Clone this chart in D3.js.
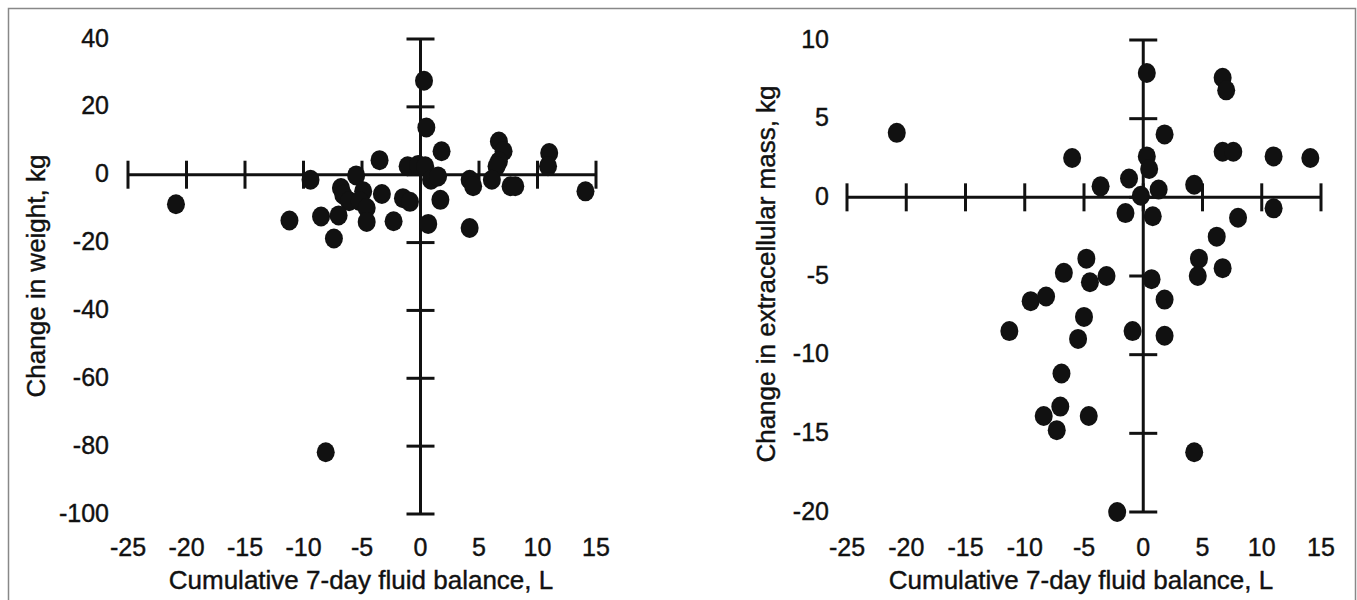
<!DOCTYPE html>
<html>
<head>
<meta charset="utf-8">
<script src="https://cdn.jsdelivr.net/npm/d3@7"></script>
<style>
  body { margin: 0; background: #fff; }
  svg text { font-family: "Liberation Sans", Arial, Helvetica, sans-serif; fill: #111; stroke: #111; stroke-width: 0.4px; }
</style>
</head>
<body>
<svg id="chart" width="1357" height="600"></svg>
<script>
// left panel: change in weight vs fluid balance
const weightX = [0.3, 0.5, 1.8, -3.5, 6.7, 7.1, 6.7, 6.5, 6.1, 7.7, 8.1, 11.0, 10.9, 14.1, 4.2, 4.5, 4.2,
  -1.1, -0.2, 0.4, 0.9, 1.5, 1.7, 0.66, -1.5, -0.9, -9.4, -5.5, -6.8, -6.6, -6.1, -4.9, -5.2, -4.6,
  -3.3, -4.6, -2.3, -8.5, -7.0, -7.4, -20.9, -8.1, -11.2];
const weightY = [27.7, 13.9, 6.9, 4.3, 9.8, 6.9, 3.9, 2.5, -1.5, -3.4, -3.4, 6.4, 2.5, -4.9, -1.5, -3.4, -15.7,
  2.5, 2.9, 2.5, -1.5, -0.5, -7.4, -14.5, -6.9, -8.0, -1.5, -0.2, -3.9, -5.9, -7.8, -4.9, -7.8, -9.8,
  -5.7, -13.9, -13.7, -12.3, -12.0, -18.8, -8.7, -81.8, -13.5];

// right panel: change in extracellular mass vs fluid balance
const ecmX = [0.3, 6.7, 7.0, -20.8, 1.8, -6.0, 0.3, 0.5, 6.7, 7.6, 11.0, 14.1, -3.6, -1.2, -0.2, 1.3, 4.3,
  -1.5, 0.8, 8.0, 11.0, 6.2, 4.7, 4.6, 6.7, -4.8, -6.7, -4.5, -3.1, 0.7, -9.5, -8.2, 1.8, -5.0, -11.3,
  -5.5, -0.9, 1.8, -6.9, -7.0, -8.4, -4.6, -7.3, 4.3, -2.2];
const ecmY = [7.9, 7.6, 6.8, 4.1, 4.0, 2.5, 2.6, 1.8, 2.9, 2.9, 2.6, 2.5, 0.7, 1.2, 0.1, 0.5, 0.8,
  -1.0, -1.2, -1.3, -0.7, -2.5, -3.9, -5.0, -4.5, -3.9, -4.8, -5.4, -5.0, -5.2, -6.6, -6.3, -6.5, -7.6, -8.5,
  -9.0, -8.5, -8.8, -11.2, -13.3, -13.9, -13.9, -14.8, -16.2, -20.0];

const xTicks = [-25, -20, -15, -10, -5, 0, 5, 10, 15];
const weightTicks = [40, 20, 0, -20, -40, -60, -80, -100];
const ecmTicks = [10, 5, 0, -5, -10, -15, -20];
const xTitle = "Cumulative 7-day fluid balance, L";

const svg = d3.select("#chart");

// frame
svg.append("path")
  .attr("d", "M8.5,610 L8.5,8.5 L1355.5,8.5 L1355.5,610")
  .attr("fill", "none")
  .attr("stroke", "#888")
  .attr("stroke-width", 1.5);

function drawPanel(opts) {
  const x = d3.scaleLinear().domain([-25, 15]).range(opts.xRange);
  const y = d3.scaleLinear().domain(opts.yDomain).range(opts.yRange);
  const g = svg.append("g");
  const tk = 14;

  // x axis line through y=0
  g.append("line")
    .attr("x1", x(-25)).attr("x2", x(15))
    .attr("y1", y(0)).attr("y2", y(0))
    .attr("stroke", "#111").attr("stroke-width", 3);
  g.selectAll(".xt").data(xTicks).enter().append("line")
    .attr("x1", d => x(d)).attr("x2", d => x(d))
    .attr("y1", y(0) - tk).attr("y2", y(0) + tk)
    .attr("stroke", "#111").attr("stroke-width", 3);

  // y axis line through x=0
  g.append("line")
    .attr("x1", x(0)).attr("x2", x(0))
    .attr("y1", y(opts.yDomain[0])).attr("y2", y(opts.yDomain[1]))
    .attr("stroke", "#111").attr("stroke-width", 3);
  g.selectAll(".yt").data(opts.yTicks).enter().append("line")
    .attr("x1", x(0) - tk).attr("x2", x(0) + tk)
    .attr("y1", d => y(d)).attr("y2", d => y(d))
    .attr("stroke", "#111").attr("stroke-width", 3);

  // tick labels
  g.selectAll(".xl").data(xTicks).enter().append("text")
    .attr("x", d => x(d)).attr("y", 556)
    .attr("text-anchor", "middle")
    .style("font-size", "25px")
    .text(d => d);
  g.selectAll(".yl").data(opts.yTicks).enter().append("text")
    .attr("x", opts.yLabelX).attr("y", d => y(d))
    .attr("dy", "0.3em")
    .attr("text-anchor", "end")
    .style("font-size", "25px")
    .text(d => d);

  // titles
  g.append("text")
    .attr("x", opts.xTitleX).attr("y", 589)
    .attr("text-anchor", "middle")
    .style("font-size", "26px")
    .text(xTitle);
  g.append("text")
    .attr("transform", `translate(${opts.yTitleX},${opts.yTitleY}) rotate(-90)`)
    .attr("text-anchor", "middle")
    .style("font-size", "26px")
    .text(opts.yTitle);

  // points
  g.selectAll("ellipse").data(opts.xs.map((v, i) => [v, opts.ys[i]])).enter().append("ellipse")
    .attr("cx", d => x(d[0])).attr("cy", d => y(d[1]))
    .attr("rx", 9).attr("ry", 10)
    .attr("fill", "#111");
}

drawPanel({
  xRange: [128, 596], yDomain: [40, -100], yRange: [39, 514],
  yTicks: weightTicks, xs: weightX, ys: weightY,
  yLabelX: 109,
  xTitleX: 361,
  yTitleX: 45, yTitleY: 276, yTitle: "Change in weight, kg"
});

drawPanel({
  xRange: [847, 1321], yDomain: [10, -20], yRange: [40, 512],
  yTicks: ecmTicks, xs: ecmX, ys: ecmY,
  yLabelX: 829,
  xTitleX: 1081,
  yTitleX: 775, yTitleY: 274, yTitle: "Change in extracellular mass, kg"
});
</script>
</body>
</html>
